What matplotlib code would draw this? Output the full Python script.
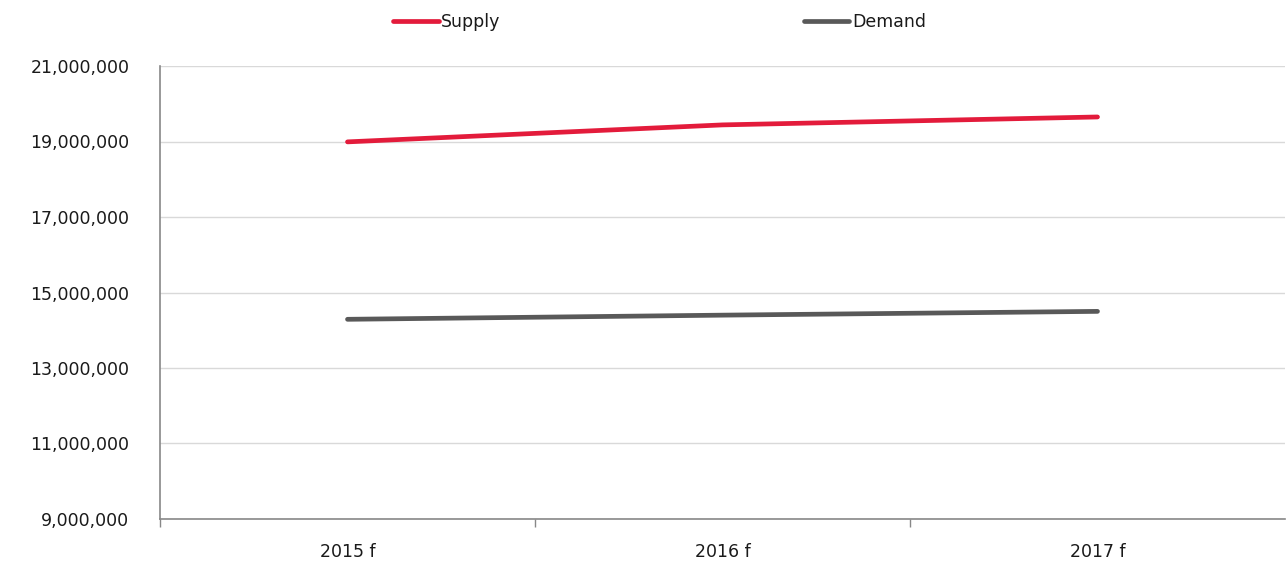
import matplotlib
matplotlib.use("Agg")
import matplotlib.pyplot as plt
from matplotlib.ticker import FuncFormatter, FixedLocator

categories = ["2015 f", "2016 f", "2017 f"]
supply = [18990000, 19440000, 19650000]
demand = [14290000, 14400000, 14500000]
yticks = [9000000, 11000000, 13000000, 15000000, 17000000, 19000000, 21000000]

plt.rcParams['font.family'] = ['DejaVu Sans']

fig = plt.figure(figsize=(12.86, 5.84), dpi=100)
ax = fig.add_axes([160/1286, 1-519/584, (1285-160)/1286, (519-66)/584])

x = list(range(len(categories)))
ax.plot(x, supply, color="#e31b3b", lw=3.4, solid_capstyle="round", label="Supply")
ax.plot(x, demand, color="#595959", lw=3.4, solid_capstyle="round", label="Demand")

ax.set_xlim(-0.5, len(categories) - 0.5)
ax.set_ylim(yticks[0], yticks[-1])
ax.set_yticks(yticks)
ax.yaxis.set_major_formatter(FuncFormatter(lambda v, p: f"{int(v):,}"))
ax.grid(axis="y", color="#d9d9d9", lw=1)
ax.set_axisbelow(True)

ax.set_xticks(x)
ax.set_xticklabels(categories)
ax.xaxis.set_minor_locator(FixedLocator([i + 0.5 for i in range(len(categories) - 1)] + [-0.5]))
ax.tick_params(axis="x", which="major", length=0, pad=17, labelsize=12.5, labelcolor="#1a1a1a")
ax.tick_params(axis="x", which="minor", length=6, color="#888888", width=1)
ax.tick_params(axis="y", length=0, pad=22, labelsize=12.5, labelcolor="#1a1a1a")

for s in ["top", "right"]:
    ax.spines[s].set_visible(False)
for s in ["left", "bottom"]:
    ax.spines[s].set_color("#888888")
    ax.spines[s].set_linewidth(1.2)

leg = fig.legend(loc="center", bbox_to_anchor=(0.513, 1-22/584), ncol=2, frameon=False,
                 fontsize=12.5, handlelength=2.6, handletextpad=0.15, columnspacing=17.5)
for t in leg.get_texts():
    t.set_color("#1a1a1a")

fig.savefig("out.png", dpi=100)
